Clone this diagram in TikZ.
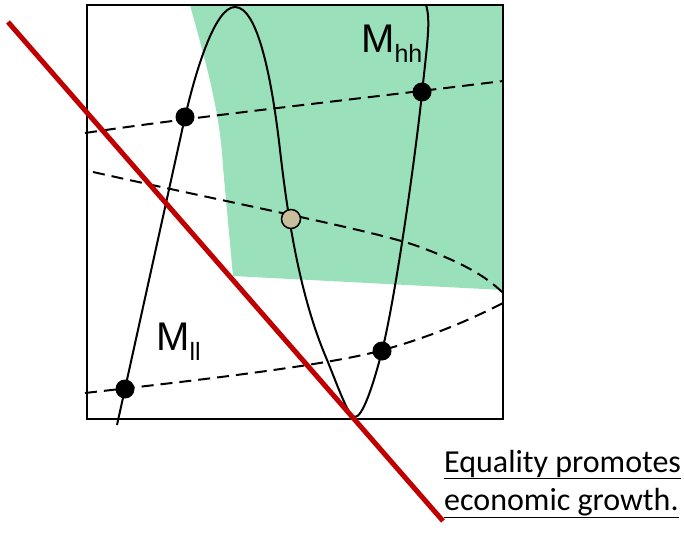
\documentclass[tikz,border=0pt]{standalone}
\usepackage{fontspec}
\setmainfont{Carlito}
\newfontfamily\arialf{Liberation Sans}
\definecolor{greenfill}{RGB}{153,224,187}
\definecolor{redline}{RGB}{192,0,0}
\definecolor{tanc}{RGB}{200,190,155}
\begin{document}
\begin{tikzpicture}[x=1pt,y=-1pt,
  curve/.style={line width=2pt},
  dashcurve/.style={line width=2pt, dash pattern=on 12pt off 7pt},
  bigdot/.style={circle, fill=black, minimum size=19pt, inner sep=0pt},
  tandot/.style={circle, fill=tanc, draw=black, line width=1.5pt, minimum size=19pt, inner sep=0pt},
  mlabel/.style={inner sep=0pt, anchor=base west, font=\arialf\fontsize{40}{40}\selectfont},
  caption/.style={inner sep=0pt, anchor=base west, font=\fontsize{32}{38}\selectfont}]
\useasboundingbox (0,0) rectangle (684,534);
% green region
\fill[greenfill] (190,5) .. controls (205,60) and (220,110) .. (223,167) -- (233,276) -- (503,290) -- (503,5) -- cycle;
% box
\draw[line width=2pt] (87,5) rectangle (503,419);
% dashed curves
\draw[dashcurve] (85,133) .. controls (200,116) and (350,100) .. (503,81);
\draw[dashcurve] (93,172) .. controls (250,207) and (380,232) .. (420,247) .. controls (460,262) and (485,275) .. (503,293);
\draw[dashcurve] (85,393) .. controls (200,380) and (330,365) .. (383,350) .. controls (430,337) and (470,320) .. (505,302);
% solid curve
\draw[curve] (117,425) -- (185,117)
  .. controls (196,70) and (215,7) .. (235,7)
  .. controls (258,7) and (272,80) .. (280,150)
  .. controls (287,210) and (298,290) .. (325,355)
  .. controls (338,386) and (348,417) .. (355,417)
  .. controls (362,417) and (372,390) .. (382,351)
  .. controls (395,300) and (415,160) .. (422,93)
  .. controls (427,45) and (431,20) .. (426,5);
% red line
\coordinate (r1) at (8,22);
\coordinate (r2) at (443,521);
\draw[redline, line width=5pt] (r1) -- (r2);
% dots
\node[bigdot] (d1) at (185,117) {};
\node[bigdot] (d2) at (422,92) {};
\node[bigdot] (d3) at (125,389) {};
\node[bigdot] (d4) at (382,351) {};
\node[tandot] (d5) at (291,219) {};
% labels
\node[mlabel] (mhh) at (361,53) {M\raisebox{-10pt}{\fontsize{25}{25}\selectfont hh}};
\node[mlabel] (mll) at (156,350) {M\raisebox{-10pt}{\fontsize{25}{25}\selectfont ll}};
\node[caption] (t1) at (444,472) {\underline{Equality promotes}};
\node[caption] (t2) at (444,510) {\underline{economic growth.}};
\end{tikzpicture}
\end{document}
